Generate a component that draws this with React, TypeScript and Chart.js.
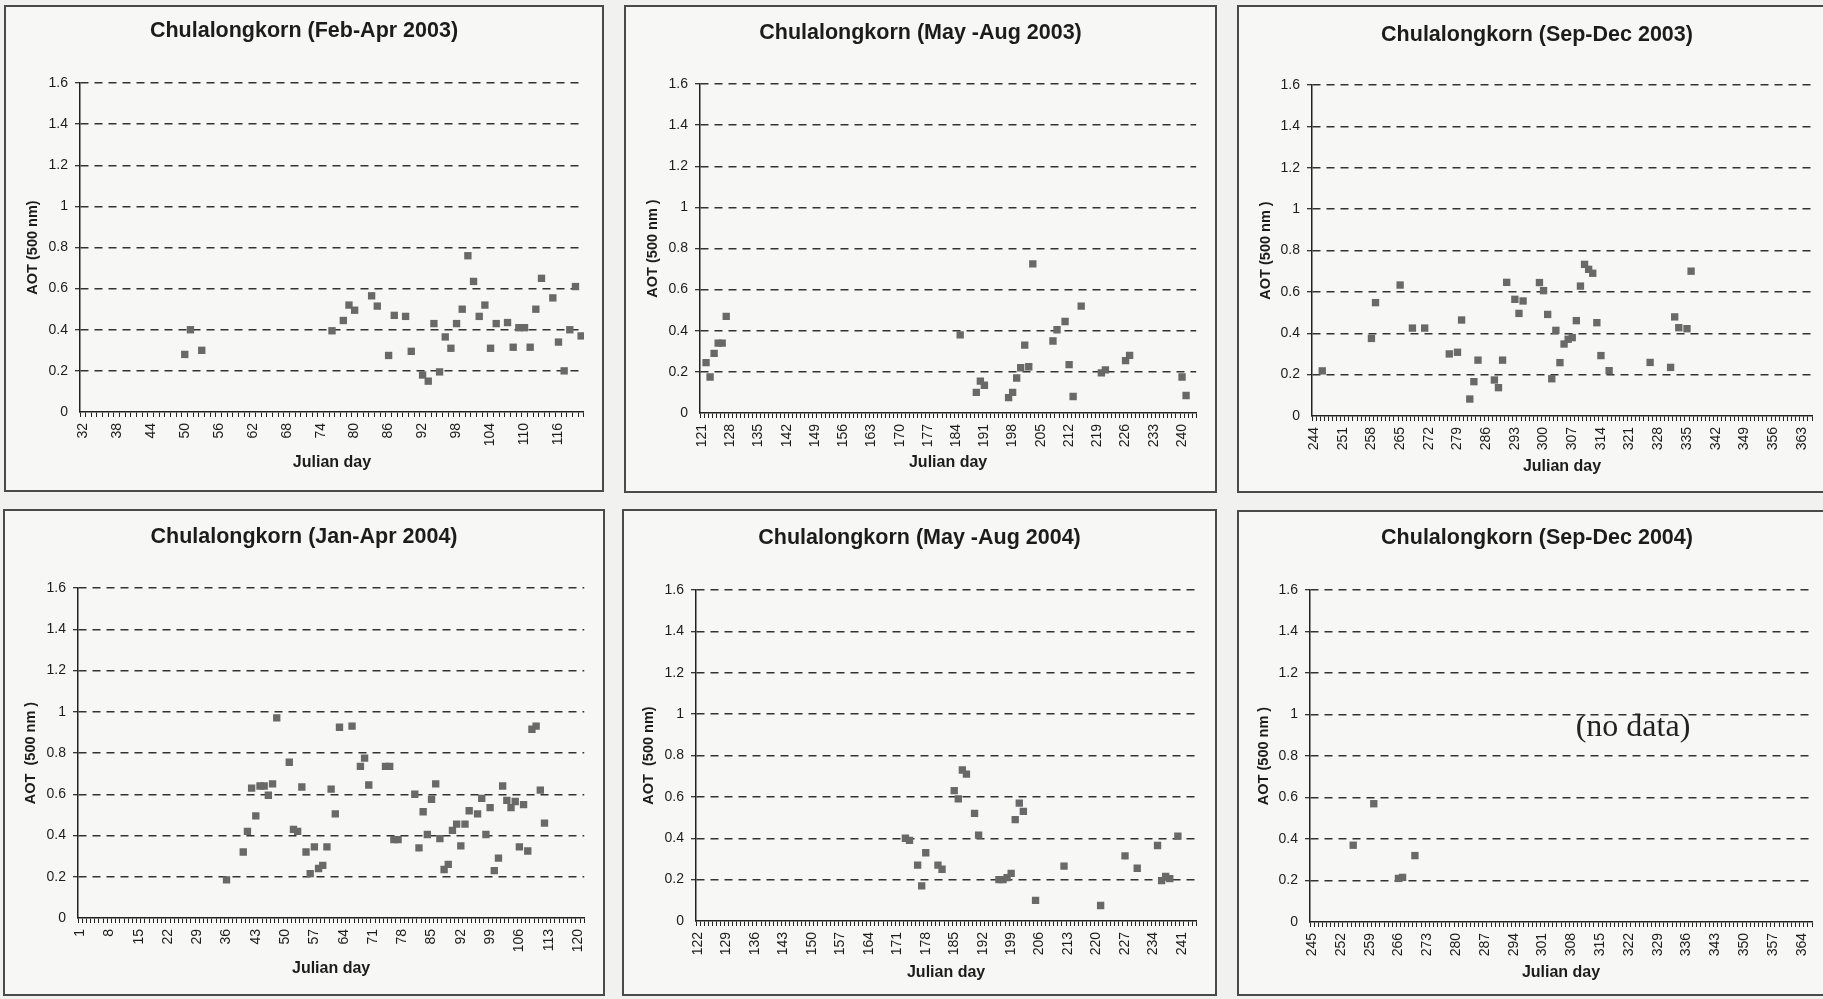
import React, { useEffect, useRef } from "react";
import { Chart, registerables } from "chart.js";

Chart.register(...registerables);

// ---------- DATA ----------
const yTicks = [0, 0.2, 0.4, 0.6, 0.8, 1, 1.2, 1.4, 1.6];

const p1Days = [50, 51, 53, 76, 78, 79, 80, 83, 84, 86, 87, 89, 90, 92, 93, 94, 95, 96, 97, 98, 99, 100, 101, 102, 103, 104, 105, 107, 108, 109, 110, 111, 112, 113, 115, 116, 117, 118, 119, 120];
const p1Aot = [0.28, 0.4, 0.3, 0.395, 0.445, 0.52, 0.495, 0.565, 0.515, 0.275, 0.47, 0.465, 0.295, 0.18, 0.15, 0.43, 0.195, 0.365, 0.31, 0.43, 0.5, 0.76, 0.635, 0.465, 0.52, 0.31, 0.43, 0.435, 0.315, 0.41, 0.41, 0.315, 0.5, 0.65, 0.555, 0.34, 0.2, 0.4, 0.61, 0.37];
const p1XTicks = [32, 38, 44, 50, 56, 62, 68, 74, 80, 86, 92, 98, 104, 110, 116];

const p2Days = [122, 123, 124, 125, 126, 127, 185, 189, 190, 191, 197, 198, 199, 200, 201, 202, 203, 208, 209, 211, 212, 213, 215, 220, 221, 226, 227, 240, 241];
const p2Aot = [0.245, 0.175, 0.29, 0.34, 0.34, 0.47, 0.38, 0.1, 0.155, 0.135, 0.075, 0.1, 0.17, 0.22, 0.33, 0.225, 0.725, 0.35, 0.405, 0.445, 0.235, 0.08, 0.52, 0.195, 0.21, 0.255, 0.28, 0.175, 0.085];
const p2XTicks = [121, 128, 135, 142, 149, 156, 163, 170, 177, 184, 191, 198, 205, 212, 219, 226, 233, 240];

const p3Days = [246, 258, 259, 265, 268, 271, 277, 279, 280, 282, 283, 284, 288, 289, 290, 291, 293, 294, 295, 299, 300, 301, 302, 303, 304, 305, 306, 307, 308, 309, 310, 311, 312, 313, 314, 316, 326, 331, 332, 333, 335, 336];
const p3Aot = [0.218, 0.375, 0.548, 0.633, 0.425, 0.425, 0.3, 0.308, 0.464, 0.082, 0.166, 0.27, 0.174, 0.137, 0.27, 0.646, 0.564, 0.496, 0.556, 0.645, 0.606, 0.491, 0.18, 0.414, 0.258, 0.348, 0.371, 0.379, 0.461, 0.628, 0.733, 0.709, 0.69, 0.451, 0.292, 0.219, 0.259, 0.235, 0.479, 0.427, 0.422, 0.7];
const p3XTicks = [244, 251, 258, 265, 272, 279, 286, 293, 300, 307, 314, 321, 328, 335, 342, 349, 356, 363];

const p4Days = [36, 40, 41, 42, 43, 44, 45, 46, 47, 48, 51, 52, 53, 54, 55, 56, 57, 58, 59, 60, 61, 62, 63, 66, 68, 69, 70, 74, 75, 76, 77, 81, 82, 83, 84, 85, 86, 87, 88, 89, 90, 91, 92, 93, 94, 96, 97, 98, 99, 100, 101, 102, 103, 104, 105, 106, 107, 108, 109, 110, 111, 112];
const p4Aot = [0.185, 0.32, 0.42, 0.63, 0.495, 0.64, 0.64, 0.595, 0.65, 0.97, 0.755, 0.43, 0.42, 0.635, 0.32, 0.215, 0.345, 0.24, 0.255, 0.345, 0.625, 0.505, 0.925, 0.93, 0.735, 0.775, 0.645, 0.735, 0.735, 0.38, 0.38, 0.6, 0.34, 0.515, 0.405, 0.575, 0.65, 0.385, 0.235, 0.26, 0.425, 0.455, 0.35, 0.455, 0.52, 0.505, 0.58, 0.405, 0.535, 0.23, 0.29, 0.64, 0.57, 0.535, 0.565, 0.345, 0.55, 0.325, 0.915, 0.93, 0.62, 0.46];
const p4XTicks = [1, 8, 15, 22, 29, 36, 43, 50, 57, 64, 71, 78, 85, 92, 99, 106, 113, 120];

const p5Days = [173, 174, 176, 177, 178, 181, 182, 185, 186, 187, 188, 190, 191, 196, 197, 198, 199, 200, 201, 202, 205, 212, 221, 227, 230, 235, 236, 237, 238, 240];
const p5Aot = [0.4, 0.39, 0.27, 0.17, 0.33, 0.27, 0.25, 0.63, 0.59, 0.73, 0.71, 0.52, 0.415, 0.2, 0.2, 0.21, 0.23, 0.49, 0.57, 0.53, 0.1, 0.265, 0.075, 0.315, 0.255, 0.365, 0.195, 0.215, 0.205, 0.41];
const p5XTicks = [122, 129, 136, 143, 150, 157, 164, 171, 178, 185, 192, 199, 206, 213, 220, 227, 234, 241];

const p6Days = [255, 260, 266, 267, 270];
const p6Aot = [0.37, 0.57, 0.21, 0.215, 0.32];
const p6XTicks = [245, 252, 259, 266, 273, 280, 287, 294, 301, 308, 315, 322, 329, 336, 343, 350, 357, 364];

const titles = [
  "Chulalongkorn (Feb-Apr 2003)",
  "Chulalongkorn (May -Aug 2003)",
  "Chulalongkorn (Sep-Dec 2003)",
  "Chulalongkorn (Jan-Apr 2004)",
  "Chulalongkorn (May -Aug 2004)",
  "Chulalongkorn (Sep-Dec 2004)",
];
const yTitles = ["AOT (500 nm)", "AOT (500 nm )", "AOT (500 nm )", "AOT  (500 nm )", "AOT  (500 nm)", "AOT (500 nm )"];
const xTitle = "Julian day";
const dayRanges = [
  [32, 120],
  [121, 243],
  [244, 365],
  [1, 121],
  [122, 244],
  [245, 366],
];

// ---------- LAYOUT (page coordinates) ----------
const layouts = [
  { box: { left: 4, top: 5, width: 600, height: 487 }, area: { L: 80, R: 593, T: 83, B: 412 }, titleY: 31, yTitleX: 33, xTitleY: 463 },
  { box: { left: 624, top: 5, width: 593, height: 488 }, area: { L: 700, R: 1205, T: 84, B: 413 }, titleY: 33, yTitleX: 653, xTitleY: 463 },
  { box: { left: 1237, top: 5, width: 600, height: 488 }, area: { L: 1312, R: 1812, T: 85, B: 416 }, titleY: 35, yTitleX: 1266, xTitleY: 467 },
  { box: { left: 3, top: 509, width: 602, height: 487 }, area: { L: 78, R: 593, T: 588, B: 918 }, titleY: 537, yTitleX: 31, xTitleY: 969 },
  { box: { left: 622, top: 509, width: 595, height: 487 }, area: { L: 696, R: 1205, T: 590, B: 921 }, titleY: 538, yTitleX: 649, xTitleY: 973 },
  { box: { left: 1237, top: 510, width: 600, height: 486 }, area: { L: 1310, R: 1812, T: 590, B: 922 }, titleY: 538, yTitleX: 1264, xTitleY: 973 },
];

const FONT = "'Liberation Sans', Arial, Helvetica, sans-serif";
const TEXT = "#1c1c1c";
const MARK = "#696969";

type PanelProps = {
  idx: number;
  days: number[];
  aot: number[];
  xTicks: number[];
  note?: string;
};

function Panel({ idx, days, aot, xTicks, note }: PanelProps) {
  const ref = useRef<HTMLCanvasElement | null>(null);
  const lay = layouts[idx];
  const { box, area } = lay;
  const [first, last] = dayRanges[idx];

  useEffect(() => {
    if (!ref.current) return;
    const W = box.width;
    const H = box.height;
    const tSize = 21.5;
    const tLine = tSize * 1.2;
    const tc = lay.titleY - box.top;
    const xtSize = 16;
    const ytSize = 14.5;
    const rightGap = box.left + W - area.R;
    const allDays: number[] = [];
    for (let d = first; d <= last; d++) allDays.push(d);

    const chart = new Chart(ref.current, {
      type: "scatter",
      data: {
        datasets: [
          {
            data: days.map((d, i) => ({ x: d, y: aot[i] })),
            pointStyle: "rect",
            pointRadius: 5.2,
            pointHoverRadius: 5.2,
            pointBorderWidth: 0,
            backgroundColor: MARK,
            borderColor: MARK,
            showLine: false,
          },
        ],
      },
      options: {
        animation: false,
        responsive: false,
        maintainAspectRatio: false,
        events: [],
        layout: { padding: 0 },
        plugins: {
          legend: { display: false },
          tooltip: { enabled: false },
          title: {
            display: true,
            text: titles[idx],
            color: TEXT,
            font: { family: FONT, size: tSize, weight: "bold", lineHeight: 1.2 },
            padding: { top: tc - tLine / 2, bottom: area.T - box.top - (tc + tLine / 2) },
          },
        },
        scales: {
          x: {
            type: "linear",
            min: first - 0.5,
            max: last + 0.5,
            afterBuildTicks: (s: any) => {
              s.ticks = allDays.map((v) => ({ value: v }));
            },
            afterFit: (s: any) => {
              s.height = box.top + H - area.B;
            },
            ticks: {
              autoSkip: false,
              maxRotation: 90,
              minRotation: 90,
              padding: 6,
              color: TEXT,
              font: { family: FONT, size: 14 },
              callback: (v: any) => (xTicks.includes(Number(v)) ? String(v) : ""),
            },
            grid: {
              drawOnChartArea: false,
              drawTicks: true,
              tickLength: 5,
              offset: true,
              color: "#222",
              tickColor: "#222",
              lineWidth: 1,
              tickWidth: 1,
            },
            border: { display: true, color: "#222", width: 1.5 },
            title: {
              display: true,
              text: xTitle,
              color: TEXT,
              font: { family: FONT, size: xtSize, weight: "bold", lineHeight: 1.2 },
              padding: { top: 0, bottom: box.top + H - lay.xTitleY - (xtSize * 1.2) / 2 },
            },
          },
          y: {
            type: "linear",
            position: "left",
            min: 0,
            max: 1.6,
            afterBuildTicks: (s: any) => {
              s.ticks = yTicks.map((v) => ({ value: v }));
            },
            afterFit: (s: any) => {
              s.width = area.L - box.left;
            },
            ticks: {
              padding: 7,
              color: TEXT,
              font: { family: FONT, size: 14 },
              callback: (v: any) => String(Math.round(Number(v) * 10) / 10),
            },
            grid: {
              drawTicks: true,
              tickLength: 5,
              lineWidth: 1.4,
              color: (c: any) => (c.tick && c.tick.value === 0 ? "rgba(0,0,0,0)" : "#333"),
              tickColor: (c: any) => (c.tick && c.tick.value === 0 ? "rgba(0,0,0,0)" : "#222"),
              tickWidth: 1.2,
            },
            border: { display: true, color: "#222", width: 1.5, dash: [8, 6] },
            title: {
              display: true,
              text: yTitles[idx],
              color: TEXT,
              font: { family: FONT, size: ytSize, weight: "bold", lineHeight: 1.2 },
              padding: { top: lay.yTitleX - box.left - (ytSize * 1.2) / 2, bottom: 0 },
            },
          },
          // empty spacer on the right so the title stays centred on the whole panel
          spacer: {
            type: "linear",
            position: "right",
            min: 0,
            max: 1,
            ticks: { display: false },
            grid: { display: false, drawOnChartArea: false, drawTicks: false },
            border: { display: false },
            title: { display: false },
            afterFit: (s: any) => {
              s.width = rightGap;
            },
          },
        },
      } as any,
    });
    return () => chart.destroy();
  }, []);

  return (
    <div
      style={{
        position: "absolute",
        left: box.left,
        top: box.top,
        width: box.width,
        height: box.height,
        background: "#f7f7f6",
      }}
    >
      <canvas
        ref={ref}
        width={box.width}
        height={box.height}
        style={{ position: "absolute", left: 0, top: 0, width: box.width, height: box.height }}
      />
      {note ? (
        <div
          style={{
            position: "absolute",
            left: 396,
            top: 215,
            transform: "translate(-50%, -50%)",
            fontFamily: "'Liberation Serif', 'Times New Roman', serif",
            fontSize: 32,
            color: "#222",
            whiteSpace: "nowrap",
          }}
        >
          {note}
        </div>
      ) : null}
      <div
        style={{
          position: "absolute",
          left: 0,
          top: 0,
          width: box.width,
          height: box.height,
          border: "2px solid #4a4a4a",
          boxSizing: "border-box",
          pointerEvents: "none",
        }}
      />
    </div>
  );
}

export default function App() {
  return (
    <div
      style={{
        position: "absolute",
        left: 0,
        top: 0,
        width: 1823,
        height: 999,
        overflow: "hidden",
        background: "#f1f1f0",
      }}
    >
      <Panel idx={0} days={p1Days} aot={p1Aot} xTicks={p1XTicks} />
      <Panel idx={1} days={p2Days} aot={p2Aot} xTicks={p2XTicks} />
      <Panel idx={2} days={p3Days} aot={p3Aot} xTicks={p3XTicks} />
      <Panel idx={3} days={p4Days} aot={p4Aot} xTicks={p4XTicks} />
      <Panel idx={4} days={p5Days} aot={p5Aot} xTicks={p5XTicks} />
      <Panel idx={5} days={p6Days} aot={p6Aot} xTicks={p6XTicks} note="(no data)" />
    </div>
  );
}
